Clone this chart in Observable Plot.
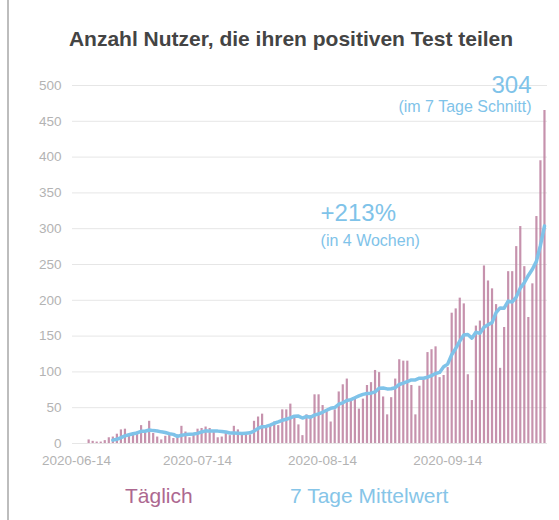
<!DOCTYPE html>
<html><head><meta charset="utf-8">
<script src="https://cdn.jsdelivr.net/npm/d3@7"></script>
<script src="https://cdn.jsdelivr.net/npm/@observablehq/plot@0.6"></script>
<style>
body{margin:0;background:#fff;font-family:"Liberation Sans",Arial,sans-serif}
#wrap{position:relative;width:559px;height:520px;overflow:hidden;background:#fff}
#border{position:absolute;left:7px;top:0;width:2px;height:520px;background:#bdbdbd}
#title{position:absolute;top:27px;left:0;width:582px;text-align:center;font-weight:bold;font-size:21px;color:#444;white-space:nowrap}
#chart{position:absolute;top:60px;left:0}
.leg{position:absolute;top:484px;font-size:21px;white-space:nowrap}
</style></head><body>
<div id="wrap">
  <div id="border"></div>
  <div id="title">Anzahl Nutzer, die ihren positiven Test teilen</div>
  <div id="chart"></div>
  <div class="leg" style="left:125px;color:#ad6890">Täglich</div>
  <div class="leg" style="left:290px;color:#86c5e8">7 Tage Mittelwert</div>
</div>
<script>
const startDate = "2020-06-17";
const daily = [
  5, 3, 2, 2, 4, 8, 9, 13, 19, 20,
  12, 14, 16, 25, 14, 31, 14, 9, 5, 10,
  13, 7, 12, 24, 16, 8, 12, 20, 21, 23,
  21, 16, 8, 9, 14, 11, 24, 19, 12, 12,
  12, 31, 37, 41, 22, 25, 30, 25, 47, 47,
  55, 38, 26, 11, 40, 39, 68, 68, 53, 46,
  30, 47, 72, 82, 90, 62, 64, 48, 62, 81,
  85, 102, 99, 65, 40, 64, 90, 117, 115, 115,
  81, 40, 80, 90, 127, 131, 135, 92, 95, 106,
  182, 188, 203, 195, 96, 60, 164, 171, 248, 227,
  216, 194, 105, 162, 240, 240, 275, 303, 247, 176,
  223, 317, 395, 465
];
const xTickLabels = ["2020-06-14", "2020-07-14", "2020-08-14", "2020-09-14"];
const yTicks = [0, 50, 100, 150, 200, 250, 300, 350, 400, 450, 500];

const t0 = new Date(startDate + "T00:00Z");
const data = daily.map((v, i) => ({date: d3.utcDay.offset(t0, i), value: v}));

const blue = "#7fc3e9";
const chart = Plot.plot({
  width: 559, height: 420,
  marginLeft: 72, marginRight: 12, marginTop: 25, marginBottom: 37,
  style: {fontFamily: "Liberation Sans, Arial, sans-serif", fontSize: "13.5px", color: "#b3b3b3", background: "transparent"},
  x: {type: "utc", domain: [new Date("2020-06-13T00:00Z"), new Date("2020-10-08T18:00Z")],
      ticks: xTickLabels.map(d => new Date(d + "T00:00Z")), tickFormat: d3.utcFormat("%Y-%m-%d"),
      tickSize: 0, tickPadding: 12, label: null},
  y: {domain: [0, 500], ticks: yTicks, tickSize: 0, tickPadding: 11, label: null},
  marks: [
    Plot.ruleY(yTicks, {stroke: "#e6e6e6", strokeWidth: 1}),
    Plot.ruleX(data, {x: "date", y1: 0, y2: "value", stroke: "#bc7f9f", strokeWidth: 2.2, strokeOpacity: 0.85}),
    Plot.lineY(data, Plot.windowY({k: 7, anchor: "end", reduce: "mean", strict: true},
      {x: "date", y: "value", stroke: blue, strokeWidth: 3.5, curve: "linear"})),
    Plot.text(["304"], {x: () => new Date("2020-10-04T19:00Z"), y: () => 500, text: d => d,
      textAnchor: "end", fill: blue, fontSize: 24}),
    Plot.text(["(im 7 Tage Schnitt)"], {x: () => new Date("2020-10-04T19:00Z"), y: () => 470.7, text: d => d,
      textAnchor: "end", fill: blue, fontSize: 16}),
    Plot.text(["+213%"], {x: () => new Date("2020-08-13T12:00Z"), y: () => 321, text: d => d,
      textAnchor: "start", fill: blue, fontSize: 24}),
    Plot.text(["(in 4 Wochen)"], {x: () => new Date("2020-08-13T12:00Z"), y: () => 283.5, text: d => d,
      textAnchor: "start", fill: blue, fontSize: 16})
  ]
});
document.getElementById("chart").appendChild(chart);
</script>
</body></html>
